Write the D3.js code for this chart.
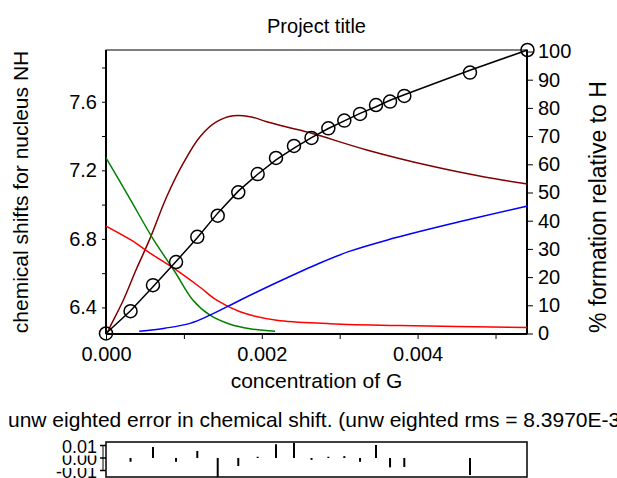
<!DOCTYPE html>
<html>
<head>
<meta charset="utf-8">
<script src="https://cdn.jsdelivr.net/npm/d3@7"></script>
<style>
    body { margin: 0; background: #fff; }
    svg { display: block; font-family: Arial, "Liberation Sans", sans-serif; }
</style>
</head>
<body>
<svg id="chart" width="617" height="478"></svg>
<script>
// observed points: concentration of G vs chemical shift of NH
var concG = [0, 0.000315, 0.000603, 0.000899, 0.001172, 0.001434, 0.001698, 0.001947, 0.002182,
    0.002413, 0.002638, 0.002854, 0.003059, 0.003261, 0.003466, 0.003646, 0.003829, 0.004672, 0.005410];
var obsShift = [6.248, 6.378, 6.530, 6.665, 6.812, 6.935, 7.072, 7.178, 7.272,
    7.342, 7.389, 7.445, 7.490, 7.529, 7.581, 7.601, 7.634, 7.770, 7.902];
var residuals = [0, -0.003, 0.0088, -0.003, 0.0056, -0.0152, -0.0064, 0.001, 0.011,
    0.012, -0.0015, 0.001, 0.0015, -0.003, 0.0104, -0.0075, -0.0072, -0.0136, 0];

// species curves, % formation relative to H  ([conc, %])
var greenCurve = [[0, 62.3], [0.000295, 48.4], [0.000590, 34.2], [0.000886, 21.8], [0.001117, 11.8],
    [0.001335, 6.5], [0.001592, 3.3], [0.001849, 1.7], [0.002170, 0.8]];
var redCurve = [[0, 38.1], [0.00033, 33.0], [0.000565, 28.5], [0.000886, 22.8], [0.001207, 16.4],
    [0.001421, 11.8], [0.001720, 7.7], [0.002191, 4.7], [0.002876, 3.5], [0.003774, 2.8], [0.005404, 2.1]];
var brownCurve = [[0.000013, 0], [0.000051, 2.3], [0.000222, 11.8], [0.000385, 22.5], [0.000556, 33.1],
    [0.000779, 48.5], [0.000992, 60.4], [0.001207, 69.8], [0.001421, 75.1], [0.001634, 77.2],
    [0.001849, 76.9], [0.002063, 75.1], [0.002320, 73.2], [0.002641, 71.0], [0.003347, 65.1],
    [0.004202, 59.2], [0.004843, 55.6], [0.005413, 53.0]];
var blueCurve = [[0.000427, 0.8], [0.000757, 1.9], [0.001078, 3.6], [0.001335, 6.5], [0.001720, 11.8],
    [0.002234, 18.6], [0.002747, 25.0], [0.003132, 29.2], [0.003603, 33.1], [0.004416, 38.8], [0.005413, 45.2]];

var xTicks = [0, 0.001, 0.002, 0.003, 0.004, 0.005];
var xLabels = [0, 0.002, 0.004];
var leftTicks = [6.4, 6.6, 6.8, 7.0, 7.2, 7.4, 7.6, 7.8];
var leftLabels = [6.4, 6.8, 7.2, 7.6];
var rightTicks = [0, 10, 20, 30, 40, 50, 60, 70, 80, 90, 100];
var resTicks = [0.01, 0, -0.01];

!function () {
    var svg = d3.select("#chart");
    // note: "top" is taken by window.top, so use plotTop etc.
    var plotLeft = 106, plotRight = 527, plotTop = 50, plotBottom = 334;
    var resTop = 442, resBottom = 477;

    var x = d3.scaleLinear().domain([0, 0.005404]).range([plotLeft, plotRight]);
    var yShift = d3.scaleLinear().domain([6.245, 7.902]).range([plotBottom, plotTop]);
    var yPct = d3.scaleLinear().domain([0, 100]).range([333.5, 51.5]);
    var yRes = d3.scaleLinear().domain([-0.0152, 0.0128]).range([resBottom, resTop]);

    svg.append("defs").append("clipPath").attr("id", "plotclip")
        .append("rect").attr("x", plotLeft).attr("y", plotTop - 8)
        .attr("width", plotRight - plotLeft + 8).attr("height", plotBottom - plotTop + 16);

    // title
    svg.append("text").attr("x", (plotLeft + plotRight) / 2).attr("y", 33)
        .attr("text-anchor", "middle").attr("font-size", 20).text("Project title");

    // frame
    svg.append("rect").attr("x", plotLeft).attr("y", plotTop)
        .attr("width", plotRight - plotLeft).attr("height", plotBottom - plotTop)
        .attr("fill", "none").attr("stroke", "#000").attr("stroke-width", 1);

    // bottom axis
    var xAxis = d3.axisBottom(x).tickValues(xTicks).tickSize(5).tickFormat(function (d) {
        return xLabels.indexOf(d) >= 0 ? d3.format(".3f")(d) : "";
    });
    var gx = svg.append("g").attr("transform", "translate(0," + plotBottom + ")").call(xAxis);
    gx.select(".domain").attr("stroke-width", 2).attr("d", "M" + plotLeft + ",0H" + plotRight);
    gx.selectAll("text").attr("font-size", 20).attr("fill", "#000").attr("dy", "0.95em");
    gx.attr("font-family", null);

    // left axis
    var yAxisL = d3.axisLeft(yShift).tickValues(leftTicks).tickSize(4).tickPadding(5).tickFormat(function (d) {
        return leftLabels.some(function (v) { return Math.abs(v - d) < 1e-9; }) ? d3.format(".1f")(d) : "";
    });
    var gl = svg.append("g").attr("transform", "translate(" + plotLeft + ",0)").call(yAxisL);
    gl.select(".domain").attr("stroke-width", 2).attr("d", "M0," + plotTop + "V" + plotBottom);
    gl.selectAll("text").attr("font-size", 20).attr("fill", "#000");
    gl.attr("font-family", null);

    // right axis
    var yAxisR = d3.axisRight(yPct).tickValues(rightTicks).tickSize(6).tickPadding(5);
    var gr = svg.append("g").attr("transform", "translate(" + plotRight + ",0)").call(yAxisR);
    gr.select(".domain").attr("stroke-width", 2).attr("d", "M0," + plotTop + "V" + plotBottom);
    gr.selectAll("text").attr("font-size", 20).attr("fill", "#000");
    gr.attr("font-family", null);

    // axis titles
    svg.append("text").attr("x", (plotLeft + plotRight) / 2).attr("y", 388)
        .attr("text-anchor", "middle").attr("font-size", 21).text("concentration of G");
    svg.append("text").attr("transform", "translate(28," + (plotTop + plotBottom) / 2 + ") rotate(-90)")
        .attr("text-anchor", "middle").attr("font-size", 21).text("chemical shifts for nucleus NH");
    svg.append("text").attr("transform", "translate(606,207) rotate(-90)")
        .attr("text-anchor", "middle").attr("font-size", 23).text("% formation relative to H");

    // species curves
    var pctLine = d3.line()
        .x(function (d) { return x(d[0]); })
        .y(function (d) { return yPct(d[1]); })
        .curve(d3.curveCatmullRom.alpha(0.5));

    var curves = [
        { data: brownCurve, color: "#800000" },
        { data: greenCurve, color: "#008000" },
        { data: redCurve, color: "#ff0000" },
        { data: blueCurve, color: "#0000ff" }
    ];
    var gc = svg.append("g").attr("clip-path", "url(#plotclip)");
    curves.forEach(function (c) {
        gc.append("path").attr("d", pctLine(c.data))
            .attr("fill", "none").attr("stroke", c.color).attr("stroke-width", 1.5);
    });

    // fitted line + observed points
    var points = concG.map(function (c, i) {
        return { conc: c, obs: obsShift[i], res: residuals[i], fit: obsShift[i] - residuals[i] };
    });
    gc.append("path")
        .attr("d", d3.line()
            .x(function (d) { return x(d.conc); })
            .y(function (d) { return yShift(d.fit); })(points))
        .attr("fill", "none").attr("stroke", "#000").attr("stroke-width", 1.5);

    svg.append("g").selectAll("circle").data(points).enter().append("circle")
        .attr("cx", function (d) { return x(d.conc); })
        .attr("cy", function (d) { return yShift(d.obs); })
        .attr("r", 6.5)
        .attr("fill", "none").attr("stroke", "#000").attr("stroke-width", 1.5);

    // residual panel
    svg.append("text").attr("x", 8).attr("y", 427).attr("font-size", 21)
        .text("unw eighted error in chemical shift. (unw eighted rms = 8.3970E-3");

    svg.append("rect").attr("x", plotLeft).attr("y", resTop)
        .attr("width", plotRight - plotLeft).attr("height", resBottom - resTop)
        .attr("fill", "none").attr("stroke", "#000").attr("stroke-width", 1.5);

    svg.append("g").selectAll("line")
        .data(points.filter(function (d) { return d.res !== 0; }))
        .enter().append("line")
        .attr("x1", function (d) { return x(d.conc); })
        .attr("x2", function (d) { return x(d.conc); })
        .attr("y1", yRes(0))
        .attr("y2", function (d) { return yRes(d.res); })
        .attr("stroke", "#000").attr("stroke-width", 2);

    // residual y ticks, labels drawn bottom-up on white boxes so they overlap like the original
    resTicks.slice().reverse().forEach(function (t) {
        var yy = yRes(t);
        svg.append("line").attr("x1", 100).attr("x2", plotLeft).attr("y1", yy).attr("y2", yy)
            .attr("stroke", "#000").attr("stroke-width", 1.5);
        svg.append("rect").attr("x", 56).attr("y", yy - 9).attr("width", 42).attr("height", 19).attr("fill", "#fff");
        svg.append("text").attr("x", 97).attr("y", yy + 7).attr("text-anchor", "end").attr("font-size", 18)
            .text(d3.format(".2f")(t).replace("\u2212", "-"));
    });
    svg.append("line").attr("x1", 103).attr("x2", 103).attr("y1", yRes(0.01)).attr("y2", yRes(-0.01))
        .attr("stroke", "#000").attr("stroke-width", 1);
}();
</script>
</body>
</html>
